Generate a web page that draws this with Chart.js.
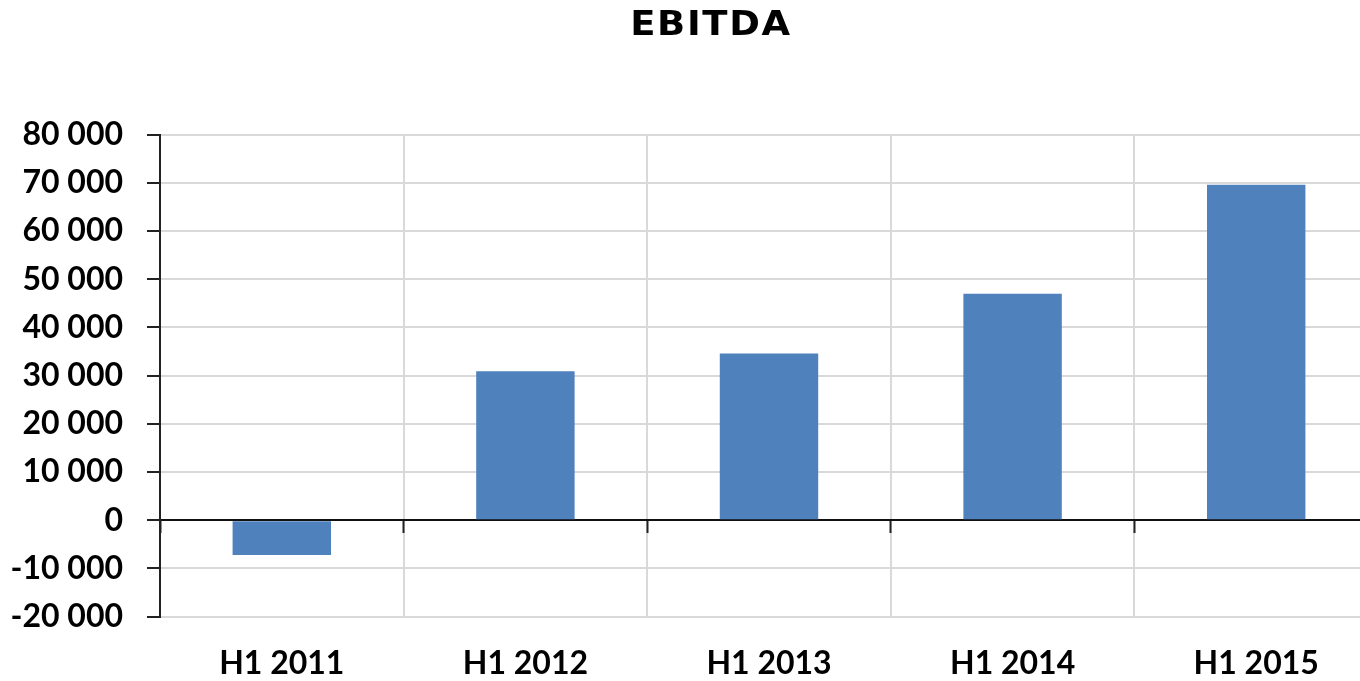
<!DOCTYPE html>
<html>
<head>
<meta charset="utf-8">
<script src="https://cdn.jsdelivr.net/npm/chart.js@4/dist/chart.umd.min.js"></script>
<style>
html,body{margin:0;padding:0;overflow:hidden;background:#fff;}
#wrap{width:1380px;height:681px;}
</style>
</head>
<body>
<div id="wrap"><canvas id="c" width="1380" height="681"></canvas></div>
<script>
const categories = ['H1 2011', 'H1 2012', 'H1 2013', 'H1 2014', 'H1 2015'];
const ebitda = [-7200, 30900, 34600, 47000, 69600];
const yMin = -20000, yMax = 80000, yStep = 10000;
const titleText = 'EBITDA';

function fmt(v) {
  const s = String(Math.abs(v)).replace(/\B(?=(\d{3})+(?!\d))/g, ' ');
  return (v < 0 ? '-' : '') + s;
}

// Title in the reference is drawn with a wide (horizontally stretched) face
const titleStretch = {
  id: 'titleStretch',
  beforeDraw(chart) {
    const tb = chart.titleBlock;
    if (tb && !tb._patched) {
      const orig = tb.draw.bind(tb);
      tb.draw = function () {
        const ctx = chart.ctx;
        const cx = (tb.left + tb.right) / 2;
        ctx.save();
        ctx.translate(711, 0);
        ctx.scale(1.12, 1);
        ctx.translate(-cx, 0);
        ctx.letterSpacing = '1.5px';
        orig();
        ctx.restore();
      };
      tb._patched = true;
    }
  }
};

const tickFont = { family: 'Lato', weight: 'bold', size: 32 };

new Chart(document.getElementById('c'), {
  type: 'bar',
  data: {
    labels: categories,
    datasets: [{
      label: titleText,
      data: ebitda,
      backgroundColor: '#4f81bd',
      borderWidth: 0,
      barPercentage: 0.404,
      categoryPercentage: 1.0
    }]
  },
  options: {
    responsive: false,
    devicePixelRatio: 1,
    animation: false,
    layout: { padding: { left: 0, right: 2, top: 0, bottom: 0 } },
    plugins: {
      legend: { display: false },
      tooltip: { enabled: false },
      title: {
        display: true,
        text: titleText,
        color: '#000',
        font: { family: 'DejaVu Sans', weight: 'bold', size: 33, lineHeight: 1.2 },
        padding: { top: 7, bottom: 88 }
      }
    },
    scales: {
      x: {
        type: 'category',
        position: 'bottom',
        offset: true,
        grid: { offset: true, color: '#d9d9d9', lineWidth: 2, drawTicks: false },
        border: { display: false },
        ticks: { color: '#000', font: tickFont, padding: 28, maxRotation: 0 },
        afterFit(scale) { scale.height = 64.3; }
      },
      x0: {
        type: 'category',
        position: { y: 0 },
        offset: true,
        grid: { offset: true, drawOnChartArea: false, drawTicks: true, tickLength: 12, tickColor: '#222', tickWidth: 2 },
        border: { display: true, color: '#111', width: 2 },
        ticks: { display: false }
      },
      y: {
        min: yMin,
        max: yMax,
        ticks: {
          stepSize: yStep,
          color: '#000',
          font: tickFont,
          padding: 24,
          callback: (v) => fmt(v)
        },
        grid: {
          color: (ctx) => (ctx.tick && ctx.tick.value === 0 ? '#111' : '#d9d9d9'),
          lineWidth: 2,
          tickLength: 13,
          tickColor: '#222',
          tickWidth: 2
        },
        border: { display: true, color: '#222', width: 2 },
        afterFit(scale) { scale.width = 160; }
      }
    }
  },
  plugins: [titleStretch]
});
</script>
</body>
</html>
